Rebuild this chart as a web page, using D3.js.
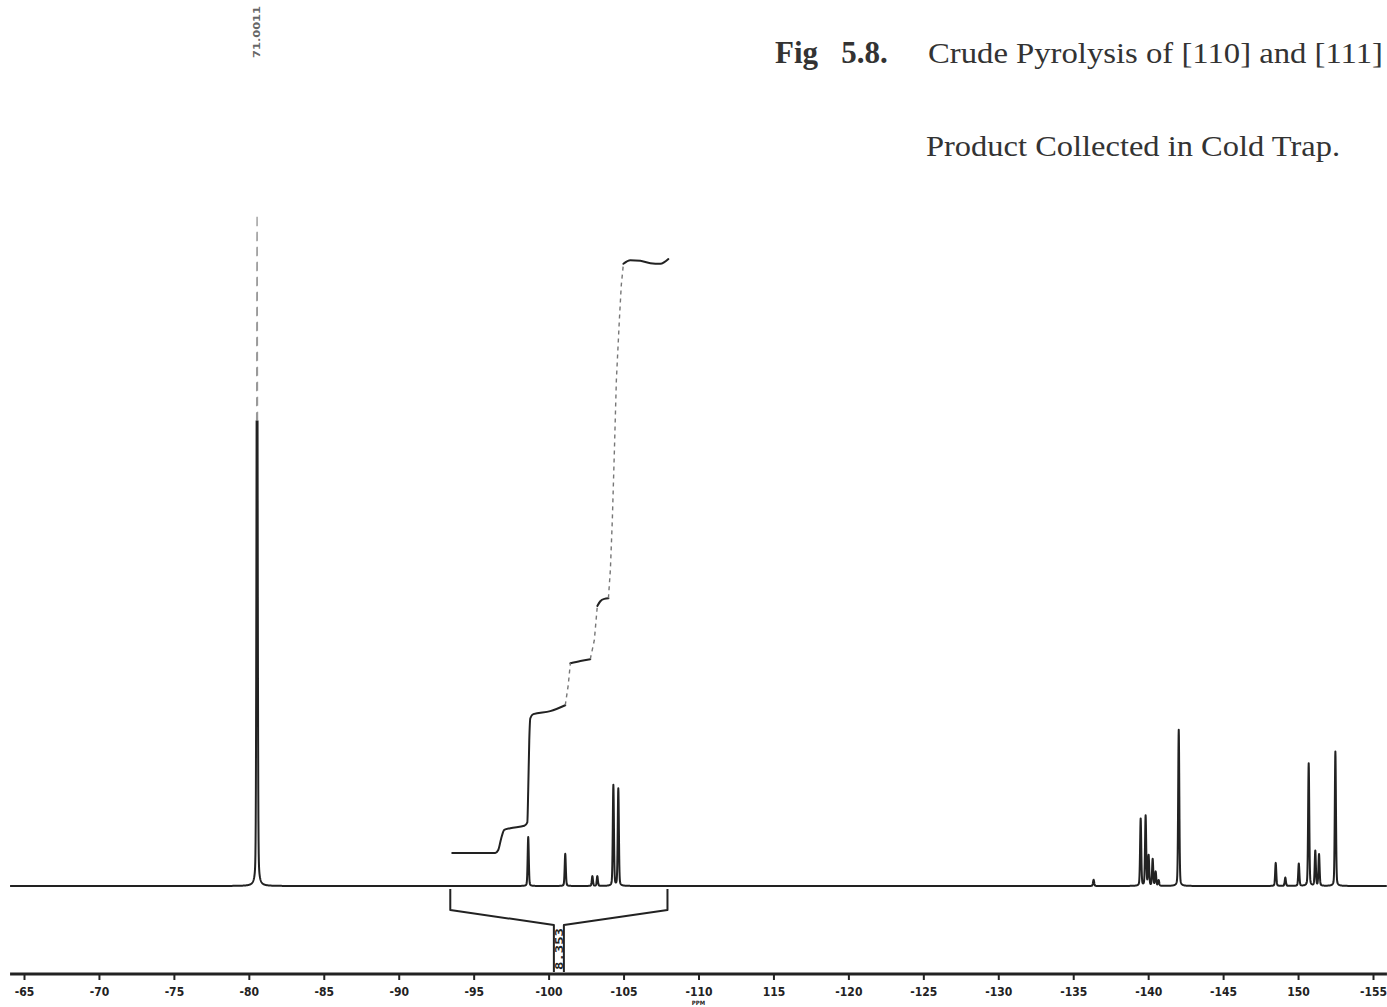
<!DOCTYPE html>
<html>
<head>
<meta charset="utf-8">
<script src="https://cdn.jsdelivr.net/npm/d3@7"></script>
<style>
  body { margin: 0; background: #fff; }
  svg { display: block; }
  .caption { font-family: 'Liberation Serif', 'Times New Roman', Times, serif; }
</style>
</head>
<body>
<svg id="chart" width="1387" height="1007"></svg>
<script>
// Peak list of the spectrum: chemical shift (ppm) and relative height
const peakShifts  = [-80.55, -98.64, -101.11, -102.92, -103.25, -104.32, -104.65,
                     -136.36, -139.50, -139.83, -140.03, -140.30, -140.50, -140.70,
                     -142.04, -148.51, -149.15, -150.05, -150.71, -151.15, -151.40, -152.49];
const peakHeights = [96.0, 7.0, 4.6, 1.4, 1.4, 14.4, 13.9,
                     0.9, 9.6, 10.0, 4.3, 3.8, 2.0, 0.8,
                     22.3, 3.3, 1.2, 3.2, 17.5, 5.0, 4.5, 19.2];
const peakLabel = "71.0011";

// Axis ticks (ppm) and their printed labels
const tickValues = [-65, -70, -75, -80, -85, -90, -95, -100, -105, -110,
                    -115, -120, -125, -130, -135, -140, -145, -150, -155];
const tickLabels = ["-65", "-70", "-75", "-80", "-85", "-90", "-95", "-100", "-105", "-110",
                    "115", "-120", "-125", "-130", "-135", "-140", "-145", "150", "-155"];

// Integral trace: plotted pieces [ppm, integral %] and faint pen-lift connectors
const integralPieces = [
  [[-93.57, 0], [-96.44, 0], [-96.64, 0.5], [-96.84, 2.5], [-97.04, 3.9], [-97.44, 4.2],
   [-98.38, 4.6], [-98.58, 5.2], [-98.64, 10.7], [-98.71, 19.1], [-98.78, 22.8],
   [-98.98, 23.5], [-100.11, 24.0], [-101.11, 25.0]],
  [[-101.45, 32.1], [-102.12, 32.5], [-102.78, 32.8]],
  [[-103.25, 41.8], [-103.45, 42.6], [-103.72, 43.0], [-103.99, 43.1]],
  [[-104.99, 99.7], [-105.45, 100.3], [-106.12, 100.2], [-106.79, 99.8], [-107.46, 99.7], [-107.99, 100.5]]
];
const integralConnectors = [
  [[-101.11, 25.0], [-101.31, 28.4], [-101.45, 32.1]],
  [[-102.78, 32.8], [-103.05, 36.0], [-103.25, 41.8]],
  [[-103.99, 43.1], [-104.12, 47.9], [-104.25, 56.3], [-104.39, 68.2], [-104.52, 80.0],
   [-104.72, 90.2], [-104.85, 96.1], [-104.99, 99.7]]
];

// Integration region and its printed value
const regionFrom = -93.44, regionTo = -107.93, regionValue = "8.353";

const svg = d3.select("#chart");
const ink = "#222";

const x = d3.scaleLinear().domain([-65, -155]).range([24, 1373]);
const y = d3.scaleLinear().domain([0, 100]).range([886, 186]);
const yInt = d3.scaleLinear().domain([0, 100]).range([853, 262]);
const ppmLeft = -64.07, ppmRight = -155.93;

// Line shape: mostly Gaussian with a small Lorentzian share
const hw = 0.045, lorentzShare = 0.25;
function shape(d) {
  const u = d / hw;
  return lorentzShare / (1 + u * u) + (1 - lorentzShare) * Math.exp(-Math.LN2 * u * u);
}
function intensity(p) {
  let s = 0;
  for (let i = 0; i < peakShifts.length; i++) s += peakHeights[i] * shape(p - peakShifts[i]);
  return s;
}
const samplePpm = [];
for (let p = ppmLeft; p >= ppmRight; p -= 0.01) samplePpm.push(p);
peakShifts.forEach(c => samplePpm.push(c));
samplePpm.sort((a, b) => b - a);
const trace = samplePpm.map(p => [p, intensity(p)]);

const line = d3.line().x(d => x(d[0])).y(d => y(d[1]));
const penLimit = 66.5;  // above this level the plotter pen trace is faint

const defs = svg.append("defs");
defs.append("clipPath").attr("id", "solidPart").append("rect")
  .attr("x", 0).attr("y", y(penLimit)).attr("width", 1387).attr("height", 1007);
defs.append("clipPath").attr("id", "faintPart").append("rect")
  .attr("x", 0).attr("y", 0).attr("width", 1387).attr("height", y(penLimit));

svg.append("path").datum(trace).attr("d", line)
  .attr("clip-path", "url(#faintPart)")
  .attr("fill", "none").attr("stroke", "#999").attr("stroke-width", 1.3)
  .attr("stroke-dasharray", "9,6");
svg.append("path").datum(trace).attr("d", line)
  .attr("clip-path", "url(#solidPart)")
  .attr("fill", "none").attr("stroke", ink).attr("stroke-width", 2)
  .attr("stroke-linejoin", "round");

// Peak shift label above the tallest line
const tallest = d3.maxIndex(peakHeights);
svg.append("text")
  .attr("transform", `translate(${x(peakShifts[tallest]) + 3},58) rotate(-90)`)
  .attr("font-family", "DejaVu Sans Condensed, DejaVu Sans, sans-serif")
  .attr("font-weight", "bold").attr("font-size", 9).attr("fill", "#666")
  .attr("textLength", 52).attr("lengthAdjust", "spacingAndGlyphs")
  .text(peakLabel);

// Integral curve
const iline = d3.line().x(d => x(d[0])).y(d => yInt(d[1])).curve(d3.curveMonotoneX);
svg.selectAll("path.ipiece").data(integralPieces).join("path")
  .attr("class", "ipiece").attr("d", iline)
  .attr("fill", "none").attr("stroke", ink).attr("stroke-width", 2)
  .attr("stroke-linejoin", "round").attr("stroke-linecap", "round");
const cline = d3.line().x(d => x(d[0])).y(d => yInt(d[1]));
svg.selectAll("path.iconn").data(integralConnectors).join("path")
  .attr("class", "iconn").attr("d", cline)
  .attr("fill", "none").attr("stroke", "#777").attr("stroke-width", 1.4)
  .attr("stroke-dasharray", "4,4");

// Integration bracket with its value
const bx0 = x(regionFrom), bx1 = x(regionTo), bxm = (bx0 + bx1) / 2;
svg.append("path")
  .attr("d", `M${bx0},889 V910 L${bxm - 5},925 V972 M${bx1},889 V910 L${bxm + 5},925 V972`)
  .attr("fill", "none").attr("stroke", ink).attr("stroke-width", 2)
  .attr("stroke-linejoin", "round");
svg.append("text")
  .attr("transform", `translate(${bxm + 4},970) rotate(-90)`)
  .attr("font-family", "DejaVu Sans Mono, monospace").attr("font-weight", "bold")
  .attr("font-size", 10).attr("fill", ink)
  .attr("textLength", 42).attr("lengthAdjust", "spacingAndGlyphs")
  .text(regionValue);

// ppm axis
const axisY = 974;
svg.append("line")
  .attr("x1", x(ppmLeft)).attr("x2", x(ppmRight))
  .attr("y1", axisY).attr("y2", axisY)
  .attr("stroke", ink).attr("stroke-width", 3);
const axis = d3.axisBottom(x)
  .tickValues(tickValues)
  .tickFormat((d, i) => tickLabels[i])
  .tickSize(6).tickSizeOuter(0).tickPadding(7);
const gAxis = svg.append("g").attr("transform", `translate(0,${axisY})`).call(axis);
gAxis.select(".domain").remove();
gAxis.selectAll(".tick line").attr("stroke", ink).attr("stroke-width", 2);
gAxis.selectAll(".tick text")
  .attr("font-family", "DejaVu Sans Condensed, DejaVu Sans, sans-serif")
  .attr("font-weight", "bold").attr("font-size", 12).attr("fill", ink);
svg.append("text")
  .attr("x", x(-110)).attr("y", 1005).attr("text-anchor", "middle")
  .attr("font-family", "DejaVu Sans Condensed, sans-serif").attr("font-weight", "bold")
  .attr("font-size", 6).attr("fill", ink).text("PPM");

// Figure caption
svg.append("text").attr("class", "caption").attr("x", 775).attr("y", 63)
  .attr("font-weight", "bold").attr("font-size", 31).attr("fill", "#333")
  .attr("xml:space", "preserve").text("Fig   5.8.");
svg.append("text").attr("class", "caption").attr("x", 928).attr("y", 63)
  .attr("font-size", 30).attr("fill", "#333")
  .attr("textLength", 455).attr("lengthAdjust", "spacingAndGlyphs")
  .text("Crude Pyrolysis of [110] and [111]");
svg.append("text").attr("class", "caption").attr("x", 926).attr("y", 156)
  .attr("font-size", 30).attr("fill", "#333")
  .attr("textLength", 414).attr("lengthAdjust", "spacingAndGlyphs")
  .text("Product Collected in Cold Trap.");
</script>
</body>
</html>
